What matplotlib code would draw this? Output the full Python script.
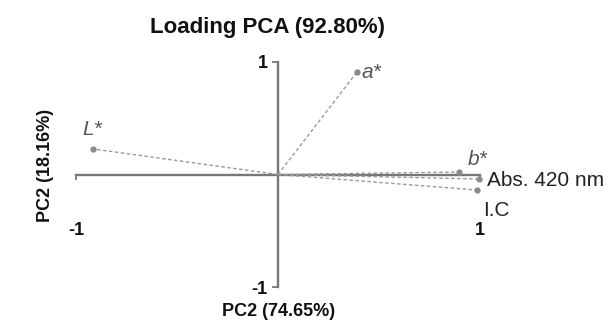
import matplotlib
matplotlib.use("Agg")
import matplotlib.pyplot as plt

plt.rcParams["font.family"] = ["Liberation Sans", "DejaVu Sans"]

# loadings
names = ["L*", "a*", "b*", "Abs. 420 nm", "I.C"]
pc1 = [-0.918, 0.392, 0.898, 0.998, 0.988]
pc2 = [0.227, 0.911, 0.022, -0.040, -0.138]

W, H = 614, 320
OX, OY = 278, 174.5   # origin in pixels
SX, SY = 201.5, 112.5  # pixels per unit

fig = plt.figure(figsize=(W / 100, H / 100), dpi=100)
ax = fig.add_axes([0, 0, 1, 1])
ax.set_xlim(-OX / SX, (W - OX) / SX)
ax.set_ylim((OY - H) / SY, OY / SY)
ax.patch.set_alpha(0)

AXC = "#777777"
for s in ["top", "right"]:
    ax.spines[s].set_visible(False)
for s in ["left", "bottom"]:
    ax.spines[s].set_position(("data", 0))
    ax.spines[s].set_bounds(-1, 1)
    ax.spines[s].set_color(AXC)
    ax.spines[s].set_linewidth(1.7)

ax.set_xticks([-1, 1])
ax.set_yticks([-1, 1])
ax.set_xticklabels(["-1", "1"])
ax.set_yticklabels(["-1", "1"])
ax.tick_params(axis="x", direction="out", length=3.5, width=1.3, color=AXC,
               pad=31, labelsize=13)
ax.tick_params(axis="y", direction="out", length=4.5, width=1.3, color=AXC,
               pad=3, labelsize=13)
for lab in ax.get_xticklabels() + ax.get_yticklabels():
    lab.set_fontweight("bold")
    lab.set_color("#111111")

# dashed loading vectors
for x, y in zip(pc1, pc2):
    ax.plot([0, x], [0, y], linestyle=(0, (2.5, 1.8)), color="#999999",
            linewidth=1.0, zorder=3)
    ax.plot([x], [y], marker="o", markersize=3.5, color="#8a8a8a",
            linestyle="none", zorder=4)

# label offsets in pixels
offs = {
    "L*": (-1, 10, "center", "bottom", "italic", "#555555"),
    "a*": (5, 0, "left", "center", "italic", "#555555"),
    "b*": (9, 3, "left", "bottom", "italic", "#555555"),
    "Abs. 420 nm": (8, -1, "left", "center", "normal", "#222222"),
    "I.C": (6, -20, "left", "center", "normal", "#222222"),
}
for name, x, y in zip(names, pc1, pc2):
    dx, dy, ha, va, st, c = offs[name]
    ax.annotate(name, (x, y), xytext=(dx * 0.72, dy * 0.72),
                textcoords="offset points", ha=ha, va=va, fontsize=15,
                fontstyle=st, color=c)

fig.text(267 / W, 1 - 27 / H, "Loading PCA (92.80%)", ha="center",
         va="center", fontsize=16, fontweight="bold", color="#111111")
fig.text(279 / W, 1 - 312 / H, "PC2 (74.65%)", ha="center", va="center",
         fontsize=13, fontweight="bold", color="#111111")
fig.text(45 / W, 1 - 165 / H, "PC2 (18.16%)", ha="center", va="center",
         rotation=90, fontsize=13, fontweight="bold", color="#111111")

fig.savefig("out.png", dpi=100)
